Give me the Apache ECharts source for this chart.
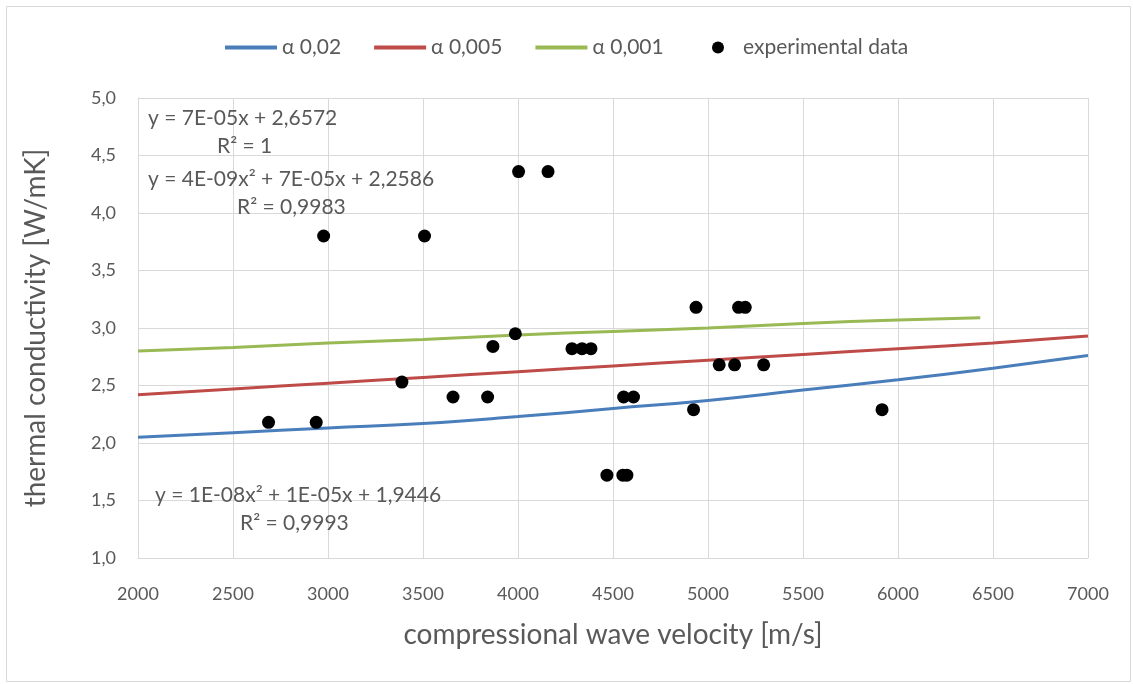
<!DOCTYPE html>
<html>
<head>
<meta charset="utf-8">
<script src="https://cdn.jsdelivr.net/npm/echarts@6/dist/echarts.min.js"></script>
<style>
html,body{margin:0;padding:0;background:#fff;}
#chart{width:1133px;height:684px;}
</style>
</head>
<body>
<div id="chart"></div>
<script>
// x positions (m/s) where the model curves were read
const curveX = [2000, 2500, 3000, 3500, 4000, 4500, 5000, 5500, 6000, 6500, 7000];
const alpha002 = [2.05, 2.09, 2.13, 2.17, 2.23, 2.30, 2.37, 2.46, 2.55, 2.65, 2.76];
const alpha0005 = [2.42, 2.47, 2.52, 2.57, 2.62, 2.67, 2.72, 2.77, 2.82, 2.87, 2.93];
const greenX = [2000, 2500, 3000, 3500, 4000, 4500, 5000, 5500, 6000, 6433];
const alpha0001 = [2.80, 2.83, 2.87, 2.90, 2.94, 2.97, 3.00, 3.04, 3.07, 3.09];

const expX = [2687, 2938, 2977, 3508, 4003, 4158, 3389, 3658, 3840, 3868, 3986,
              4284, 4337, 4384, 4556, 4608, 4468, 4552, 4573, 4937, 5161, 5196,
              4924, 5059, 5140, 5293, 5916];
const expY = [2.18, 2.18, 3.80, 3.80, 4.36, 4.36, 2.53, 2.40, 2.40, 2.84, 2.95,
              2.82, 2.82, 2.82, 2.40, 2.40, 1.72, 1.72, 1.72, 3.18, 3.18, 3.18,
              2.29, 2.68, 2.68, 2.68, 2.29];

const seriesNames = ['α 0,02', 'α 0,005', 'α 0,001', 'experimental data'];
const equations = [
  'y = 7E-05x + 2,6572', 'R² = 1',
  'y = 4E-09x² + 7E-05x + 2,2586', 'R² = 0,9983',
  'y = 1E-08x² + 1E-05x + 1,9446', 'R² = 0,9993'
];

const FONT = 'Lato, "Noto Sans", sans-serif';
const GRAY = '#595959';
const COLORS = ['#4a7ebb', '#be4b48', '#98b954', '#000000'];

function pairs(xs, ys){ return xs.map((x,i)=>[x, ys[i]]); }

const chart = echarts.init(document.getElementById('chart'), null, {renderer:'canvas'});

function txt(text, x, y){
  return {type:'text', left:x, top:y, z:100,
    style:{text:text, fill:GRAY, font:'21px ' + FONT}};
}

chart.setOption({
  animation:false,
  backgroundColor:'#fff',
  textStyle:{fontFamily:FONT},
  grid:{left:138, right:45, top:98, bottom:126, containLabel:false},
  legend:[{
    top:32, left:218,
    itemWidth:52, itemHeight:12, itemGap:31,
    textStyle:{color:GRAY, fontSize:21, fontFamily:FONT},
    data:[
      {name:seriesNames[0], itemStyle:{opacity:0}, lineStyle:{width:4}},
      {name:seriesNames[1], itemStyle:{opacity:0}, lineStyle:{width:4}},
      {name:seriesNames[2], itemStyle:{opacity:0}, lineStyle:{width:4}}
    ]
  },{
    top:32, left:707,
    itemWidth:40, itemHeight:12,
    textStyle:{color:GRAY, fontSize:21, fontFamily:FONT},
    data:[
      {name:seriesNames[3], icon:'circle', itemStyle:{color:'#000'}}
    ]
  }],
  xAxis:{
    type:'value', min:2000, max:7000, interval:500,
    name:'compressional wave velocity [m/s]', nameLocation:'middle', nameGap:63,
    nameTextStyle:{color:GRAY, fontSize:28, fontFamily:FONT},
    axisLine:{show:true, lineStyle:{color:'#d9d9d9', width:1}},
    axisTick:{show:false},
    axisLabel:{color:GRAY, fontSize:18, margin:27, fontFamily:FONT,
      formatter:v=>String(v)},
    splitLine:{show:true, lineStyle:{color:'#d9d9d9', width:1}}
  },
  yAxis:{
    type:'value', min:1, max:5, interval:0.5,
    name:'thermal conductivity [W/mK]', nameLocation:'middle', nameGap:88,
    nameTextStyle:{color:GRAY, fontSize:28, fontFamily:FONT},
    axisLine:{show:true, lineStyle:{color:'#d9d9d9', width:1}},
    axisTick:{show:false},
    axisLabel:{color:GRAY, fontSize:18, margin:22, fontFamily:FONT,
      formatter:v=>v.toFixed(1).replace('.', ',')},
    splitLine:{show:true, lineStyle:{color:'#d9d9d9', width:1}}
  },
  series:[
    {name:seriesNames[0], type:'line', data:pairs(curveX, alpha002), smooth:true,
     symbol:'none', lineStyle:{color:COLORS[0], width:3}, itemStyle:{color:COLORS[0]}},
    {name:seriesNames[1], type:'line', data:pairs(curveX, alpha0005), smooth:true,
     symbol:'none', lineStyle:{color:COLORS[1], width:3}, itemStyle:{color:COLORS[1]}},
    {name:seriesNames[2], type:'line', data:pairs(greenX, alpha0001), smooth:true,
     symbol:'none', lineStyle:{color:COLORS[2], width:3}, itemStyle:{color:COLORS[2]}},
    {name:seriesNames[3], type:'scatter', data:pairs(expX, expY), symbol:'circle',
     symbolSize:13, itemStyle:{color:COLORS[3], opacity:1}, z:10}
  ],
  graphic:[
    {type:'rect', left:4, top:4, z:-1, shape:{width:1124, height:675},
     style:{fill:null, stroke:'#d9d9d9', lineWidth:1}},
    txt(equations[0], 148, 108),
    txt(equations[1], 217, 136),
    txt(equations[2], 148, 169),
    txt(equations[3], 237, 197),
    txt(equations[4], 155, 485),
    txt(equations[5], 240, 513)
  ]
});
</script>
</body>
</html>
